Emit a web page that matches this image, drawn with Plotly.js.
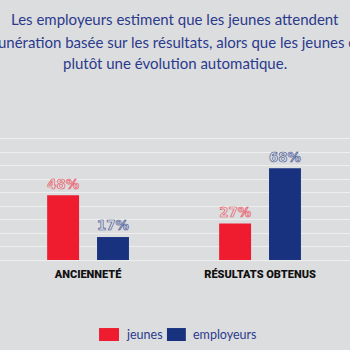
<!DOCTYPE html>
<html><head><meta charset="utf-8">
<script src="https://cdn.plot.ly/plotly-3.0.1.min.js"></script>
<style>html,body{margin:0;padding:0;background:#dcdddf}</style>
</head><body><div id="chart" style="width:350px;height:350px"></div>
<script>
const categories = ['ANCIENNETÉ', 'RÉSULTATS OBTENUS'];
const seriesNames = ['jeunes', 'employeurs'];
const jeunes = [48, 27];
const employeurs = [17, 68];
const titleLines = [
  'Les employeurs estiment que les jeunes attendent',
  'une rémunération basée sur les résultats, alors que les jeunes espèrent',
  'plutôt une évolution automatique.'
];
const RED = '#ee1c2e', BLUE = '#19327f', TITLEBLUE = '#2b3a8c';

const traces = [
  {type:'bar', name:seriesNames[0], x:categories, y:jeunes, marker:{color:RED},
   texttemplate:'%{y}%', textposition:'outside', cliponaxis:false,
   textfont:{family:'DejaVu Sans', size:15, color:'#ec5563', weight:'bold'}},
  {type:'bar', name:seriesNames[1], x:categories, y:employeurs, marker:{color:BLUE},
   texttemplate:'%{y}%', textposition:'outside', cliponaxis:false,
   textfont:{family:'DejaVu Sans', size:15, color:'#4a5a98', weight:'bold'}}
];

const titleY = [1.785, 1.615, 1.459];
const titleAnn = titleLines.map(function(s, i){
  return {xref:'paper', yref:'paper', x:0.5, y:titleY[i], xanchor:'center', yanchor:'middle',
          showarrow:false, text:s, font:{family:'Lato', size:15, color:TITLEBLUE}};
});

const layout = {
  width:350, height:350,
  paper_bgcolor:'#dcdddf', plot_bgcolor:'#dcdddf',
  margin:{l:0, r:0, t:125, b:90, pad:0},
  showlegend:false,
  barmode:'group', bargap:0.42, bargroupgap:0.36,
  xaxis:{type:'category', range:[-0.512, 1.523], showgrid:false, zeroline:false, showline:false,
         ticks:'', ticklabelstandoff:6,
         tickfont:{family:'Roboto', size:11, color:'#111111', weight:900}},
  yaxis:{range:[0, 100], dtick:10, showgrid:true, gridcolor:'#eeeeef', gridwidth:1,
         zeroline:true, zerolinecolor:'#eeeeef', showticklabels:false, ticks:'', fixedrange:true},
  shapes:[
    {type:'rect', xref:'paper', yref:'paper', x0:0.283, x1:0.34, y0:-0.504, y1:-0.6, fillcolor:RED, line:{width:0}},
    {type:'rect', xref:'paper', yref:'paper', x0:0.477, x1:0.531, y0:-0.504, y1:-0.6, fillcolor:BLUE, line:{width:0}}
  ],
  annotations:titleAnn.concat([
    {xref:'paper', yref:'paper', x:0.354, y:-0.552, xanchor:'left', yanchor:'middle', showarrow:false,
     text:seriesNames[0], font:{family:'Lato', size:12.5, color:TITLEBLUE}},
    {xref:'paper', yref:'paper', x:0.546, y:-0.552, xanchor:'left', yanchor:'middle', showarrow:false,
     text:seriesNames[1], font:{family:'Lato', size:12.5, color:TITLEBLUE}}
  ])
};

function outlineLabels(){
  document.querySelectorAll('text.bartext').forEach(function(t){
    const c = t.getAttribute('data-c') || t.style.fill;
    t.setAttribute('data-c', c);
    t.style.setProperty('fill', '#dcdddf', 'important');
    t.style.setProperty('stroke', c, 'important');
    t.style.setProperty('stroke-width', '0.75px', 'important');
  });
}
Plotly.newPlot('chart', traces, layout, {displayModeBar:false, staticPlot:true}).then(function(){
  outlineLabels();
});
</script>
</body></html>
